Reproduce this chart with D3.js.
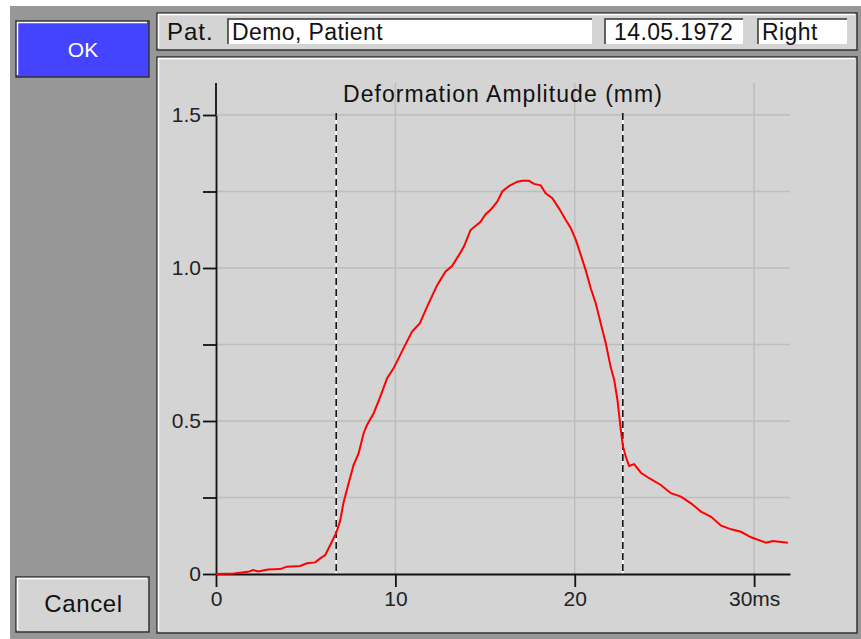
<!DOCTYPE html>
<html>
<head>
<meta charset="utf-8">
<script src="https://cdn.jsdelivr.net/npm/d3@7"></script>
<style>
  body { margin: 0; background: #fff; }
  svg { display: block; font-family: 'Liberation Sans', Arial, sans-serif; }
</style>
</head>
<body>
<div id="chart"></div>
<script>
// curve: time (ms) -> deformation amplitude (mm)
const timeMs = [0, 1.0, 1.79, 2.07, 2.35, 2.9, 3.58, 3.95, 4.7, 5.07, 5.53, 5.81, 6.09, 6.37, 6.7, 6.93,
  7.1, 7.39, 7.67, 7.95, 8.23, 8.42, 8.79, 9.16, 9.54, 9.9, 10.46, 10.93, 11.36, 11.77, 12.33, 12.79,
  13.17, 13.54, 13.82, 14.19, 14.75, 15.03, 15.31, 15.68, 15.96, 16.33, 16.8, 17.08, 17.45, 17.73,
  18.1, 18.38, 18.75, 19.12, 19.5, 19.78, 20.06, 20.34, 20.61, 20.89, 21.17, 21.45, 21.73, 22.0,
  22.2, 22.38, 22.57, 22.69, 22.85, 23.03, 23.31, 23.69, 24.15, 24.8, 25.36, 25.92, 26.48, 27.04,
  27.6, 28.16, 28.72, 29.27, 29.83, 30.67, 31.04, 31.88]
const amplitudeMm = [0, 0.002, 0.007, 0.013, 0.008, 0.015, 0.016, 0.024, 0.026, 0.035, 0.038, 0.051,
  0.062, 0.095, 0.134, 0.176, 0.231, 0.296, 0.356, 0.394, 0.46, 0.487, 0.525, 0.58, 0.64, 0.672,
  0.738, 0.792, 0.819, 0.874, 0.944, 0.988, 1.007, 1.042, 1.07, 1.124, 1.151, 1.176, 1.19, 1.217,
  1.25, 1.268, 1.282, 1.285, 1.285, 1.275, 1.27, 1.244, 1.228, 1.195, 1.157, 1.13, 1.092, 1.042,
  0.993, 0.934, 0.885, 0.819, 0.754, 0.677, 0.634, 0.569, 0.47, 0.416, 0.383, 0.353, 0.359, 0.331,
  0.313, 0.291, 0.264, 0.253, 0.231, 0.204, 0.187, 0.158, 0.146, 0.138, 0.12, 0.102, 0.108, 0.102]

const markersMs = [6.7, 22.68] // dashed vertical lines
const xTicks = [0, 10, 20, 30]
const xTickLabels = ['0', '10', '20', '30ms']
const yTicks = [0, 0.5, 1.0, 1.5]
const yTickLabels = ['0', '0.5', '1.0', '1.5']
const yMinorTicks = [0.25, 0.75, 1.25]
const yGrid = [0.25, 0.5, 0.75, 1.0, 1.25, 1.5]
const xGrid = [10, 20, 30]

const title = 'Deformation Amplitude (mm)'
const patientName = 'Demo, Patient'
const birthDate = '14.05.1972'
const eyeSide = 'Right'

const svg = d3.select('#chart').append('svg').attr('width', 861).attr('height', 639)

// window background
svg.append('rect').attr('x', 10).attr('y', 6).attr('width', 851).attr('height', 633).attr('fill', '#979797')

// bevelled panel helper
function panel(x, y, w, h, fill) {
  const g = svg.append('g')
  g.append('rect').attr('x', x).attr('y', y).attr('width', w).attr('height', h)
    .attr('fill', fill).attr('stroke', '#333').attr('stroke-width', 1.5)
  g.append('path')
    .attr('d', `M${x + 1.5},${y + h - 2}V${y + 1.5}H${x + w - 2}`)
    .attr('fill', 'none').attr('stroke', '#fff').attr('stroke-width', 1.5)
  return g
}

// inset field helper
function field(x, y, w, h, text, pad) {
  svg.append('rect').attr('x', x).attr('y', y).attr('width', w).attr('height', h).attr('fill', '#fff')
  svg.append('path').attr('d', `M${x},${y + h}V${y}H${x + w}`)
    .attr('fill', 'none').attr('stroke', '#333').attr('stroke-width', 1.5)
  svg.append('text').attr('x', x + pad).attr('y', y + h - 4)
    .attr('font-size', 23).attr('letter-spacing', 0.4).attr('fill', '#111').text(text)
}

// buttons
panel(16, 21, 133, 56, '#4444ff')
svg.append('text').attr('x', 83).attr('y', 57).attr('text-anchor', 'middle')
  .attr('font-size', 21).attr('fill', '#fff').text('OK')

panel(16, 577, 133, 55, '#d4d4d4')
svg.append('text').attr('x', 83.5).attr('y', 612).attr('text-anchor', 'middle')
  .attr('font-size', 24).attr('letter-spacing', 0.6).attr('fill', '#111').text('Cancel')

// header
panel(157, 13, 700, 37, '#d4d4d4')
svg.append('text').attr('x', 167).attr('y', 40).attr('font-size', 24).attr('letter-spacing', 1)
  .attr('fill', '#111').text('Pat.')
field(228, 19, 364, 25, patientName, 4)
field(605, 19, 138, 25, birthDate, 9)
field(758, 19, 89, 25, eyeSide, 4)

// chart panel
panel(157, 57, 700, 576, '#d4d4d4')

const x = d3.scaleLinear().domain([0, 32]).range([216, 790])
const y = d3.scaleLinear().domain([0, 1.5]).range([574, 115])

// grid
svg.append('g').selectAll('line').data(yGrid).enter().append('line')
  .attr('x1', x(0)).attr('x2', x(32)).attr('y1', (d) => y(d)).attr('y2', (d) => y(d))
  .attr('stroke', '#bdbdbd').attr('stroke-width', 1.5)
svg.append('g').selectAll('line').data(xGrid).enter().append('line')
  .attr('x1', (d) => x(d)).attr('x2', (d) => x(d)).attr('y1', 83).attr('y2', y(0))
  .attr('stroke', '#bdbdbd').attr('stroke-width', 1.5)

// title
svg.append('text').attr('x', (x(0) + x(32)) / 2).attr('y', 102).attr('text-anchor', 'middle')
  .attr('font-size', 23).attr('letter-spacing', 1.05).attr('fill', '#111').text(title)

// dashed markers
markersMs.forEach(function (m) {
  svg.append('line').attr('x1', x(m)).attr('x2', x(m)).attr('y1', 113).attr('y2', y(0))
    .attr('stroke', '#fff').attr('stroke-width', 1.6)
  svg.append('line').attr('x1', x(m)).attr('x2', x(m)).attr('y1', 113).attr('y2', y(0))
    .attr('stroke', '#111').attr('stroke-width', 1.6).attr('stroke-dasharray', '7,4')
})

// axes
const xAxis = svg.append('g').attr('transform', `translate(0,${y(0)})`)
  .call(d3.axisBottom(x).tickValues(xTicks).tickFormat((d, i) => xTickLabels[i]).tickSize(13).tickSizeOuter(0).tickPadding(4))
const yAxis = svg.append('g').attr('transform', `translate(${x(0)},0)`)
  .call(d3.axisLeft(y).tickValues(yTicks).tickFormat((d, i) => yTickLabels[i]).tickSize(13).tickSizeOuter(0).tickPadding(2))
svg.append('g').attr('transform', `translate(${x(0)},0)`)
  .call(d3.axisLeft(y).tickValues(yMinorTicks).tickFormat('').tickSize(13).tickSizeOuter(0))
  .call((g) => g.select('.domain').remove())
  .selectAll('line').attr('stroke', '#111').attr('stroke-width', 1.8)

;[xAxis, yAxis].forEach(function (g) {
  g.selectAll('line').attr('stroke', '#111').attr('stroke-width', 1.8)
  g.select('.domain').attr('stroke', '#111').attr('stroke-width', 1.8)
  g.selectAll('text').attr('font-size', 21).attr('fill', '#222')
    .style('font-family', "'Liberation Sans', Arial, sans-serif")
})
// y axis line runs up past the top tick
svg.append('line').attr('x1', x(0)).attr('x2', x(0)).attr('y1', 83).attr('y2', y(1.5))
  .attr('stroke', '#111').attr('stroke-width', 1.8)

// curve
const points = timeMs.map((t, i) => [t, amplitudeMm[i]])
const makeLine = d3.line().x((d) => x(d[0])).y((d) => y(d[1]))
svg.append('path').attr('d', makeLine(points))
  .attr('fill', 'none').attr('stroke', '#ff0000').attr('stroke-width', 2)
</script>
</body>
</html>
